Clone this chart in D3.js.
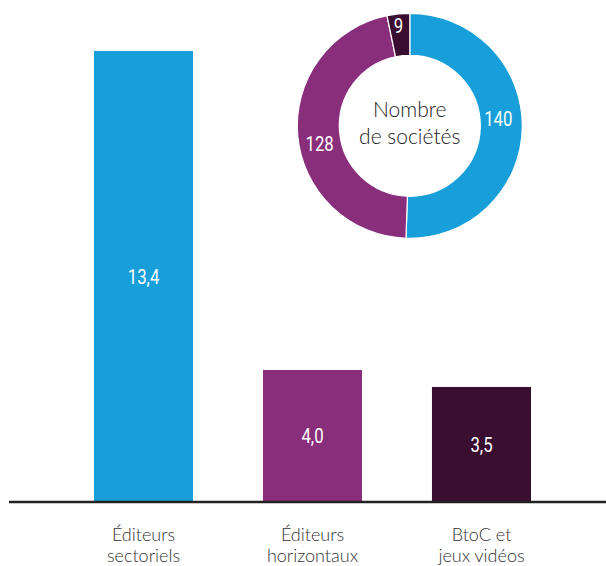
<!DOCTYPE html>
<html><head><meta charset="utf-8">
<script src="https://cdn.jsdelivr.net/npm/d3@7"></script>
<style>
html,body{margin:0;padding:0;background:#fff;}
svg{display:block;}
</style></head>
<body>
<svg id="c" width="606" height="566"></svg>
<script>
// Bar data (chiffre d'affaires)
const categories = [["Éditeurs","sectoriels"],["Éditeurs","horizontaux"],["BtoC et","jeux vidéos"]];
const barValues = [13.4, 4.0, 3.5];
const barLabels = ["13,4", "4,0", "3,5"];
// Donut data (nombre de sociétés)
const donutValues = [140, 128, 9];
const donutTitle = ["Nombre", "de sociétés"];
const colors = ["#189fd9", "#892e7b", "#3a0e31"];

const svg = d3.select("#c");
const numFont = "Roboto, 'DejaVu Sans', sans-serif";
const textFont = "Lato, 'Open Sans', sans-serif";
const squeeze = 0.8;

const x = d3.scaleBand().domain(d3.range(categories.length)).range([94, 531]).paddingInner(0.414).paddingOuter(0);
const base = 501;
const y = d3.scaleLinear().domain([0.14, 13.4]).range([base, 51]);

const g = svg.append("g");
g.selectAll("rect.bar").data(barValues).join("rect")
  .attr("class","bar")
  .attr("x", (d,i) => x(i))
  .attr("width", x.bandwidth())
  .attr("y", d => y(d))
  .attr("height", d => base - y(d))
  .attr("fill", (d,i) => colors[i]);

g.selectAll("text.val").data(barValues).join("text")
  .attr("class","val")
  .attr("transform", (d,i) => `translate(${x(i) + x.bandwidth()/2},${(y(d) + base)/2}) scale(${squeeze},1)`)
  .attr("dy", "0.36em")
  .attr("text-anchor","middle")
  .attr("fill","#fff")
  .style("font-family", numFont)
  .style("font-weight", 400)
  .style("font-size","21px")
  .text((d,i) => barLabels[i]);

// axis baseline
svg.append("line").attr("x1", 9).attr("x2", 606).attr("y1", 502).attr("y2", 502)
  .attr("stroke","#222").attr("stroke-width", 2.5);

// category labels
categories.forEach((lines, i) => {
  const t = svg.append("text")
    .attr("text-anchor","middle")
    .attr("fill","#333")
    .style("font-family", textFont)
    .style("font-weight", 300)
    .style("font-size","18px");
  lines.forEach((l, j) => {
    t.append("tspan").attr("x", x(i) + x.bandwidth()/2).attr("y", 541 + j*21).text(l);
  });
});

// donut
const cx = 409.8, cy = 125.8, rOut = 112.5, rIn = 70.5;
const pie = d3.pie().sort(null).value(d => d);
const arcs = pie(donutValues);
const arc = d3.arc().innerRadius(rIn).outerRadius(rOut);
const dg = svg.append("g").attr("transform", `translate(${cx},${cy})`);
dg.selectAll("path").data(arcs).join("path")
  .attr("d", arc)
  .attr("fill", (d,i) => colors[i])
  .attr("stroke","#fff").attr("stroke-width", 1.2);

const labelShift = [[-3,-9],[1,10],[-2,-9]];
dg.selectAll("text.dl").data(arcs).join("text")
  .attr("class","dl")
  .attr("transform", (d,i) => {
    const c = arc.centroid(d);
    return `translate(${c[0]+labelShift[i][0]},${c[1]+labelShift[i][1]}) scale(${squeeze},1)`;
  })
  .attr("dy","0.36em")
  .attr("text-anchor","middle")
  .attr("fill","#fff")
  .style("font-family", numFont)
  .style("font-weight", 400)
  .style("font-size","21px")
  .text(d => d.data);

const ct = dg.append("text").attr("text-anchor","middle").attr("fill","#222")
  .style("font-family", textFont).style("font-weight", 300).style("font-size","21px");
donutTitle.forEach((l, j) => ct.append("tspan").attr("x", 0).attr("y", -9 + j*27).text(l));
</script>
</body></html>
